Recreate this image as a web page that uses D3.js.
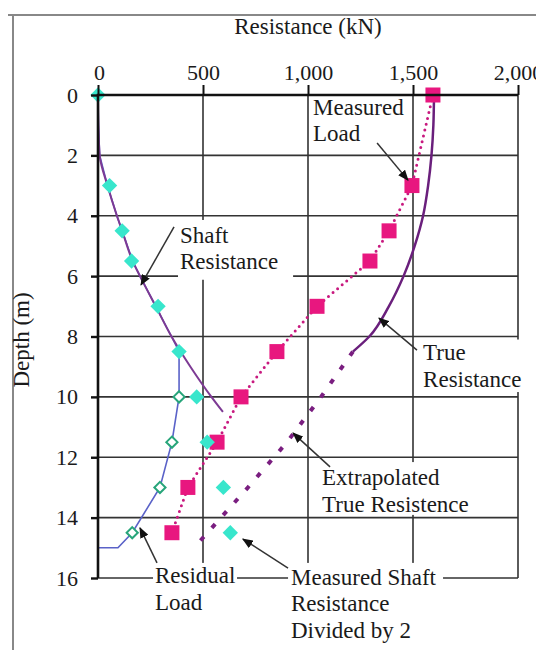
<!DOCTYPE html>
<html>
<head>
<meta charset="utf-8">
<script src="https://cdn.jsdelivr.net/npm/d3@7"></script>
<style>
  body { margin: 0; background: #fff; }
  svg text { font-family: "Liberation Serif", "Times New Roman", serif; fill: #1a1a1a; }
</style>
</head>
<body>
<svg id="chart" width="536" height="650" font-family="Liberation Serif"></svg>
<script>
// tick values
const xTicks = [0, 500, 1000, 1500, 2000];
const yTicks = [0, 2, 4, 6, 8, 10, 12, 14, 16];

// measured shaft resistance divided by 2 (cyan diamonds)
const shaftHalfDepth = [0, 3, 4.5, 5.5, 7, 8.5, 10, 11.5, 13, 14.5];
const shaftHalfKN = [0, 55, 115, 160, 286, 386, 470, 520, 597, 630];

// measured load (magenta squares)
const loadDepth = [0, 3, 4.5, 5.5, 7, 8.5, 10, 11.5, 13, 14.5];
const loadKN = [1595, 1495, 1386, 1295, 1043, 852, 681, 567, 428, 352];

// shaft resistance curve
const shaftDepth = [0, 1, 2, 3, 4, 4.5, 5.5, 6, 7, 8, 9, 10, 10.5];
const shaftKN = [0, 2, 8, 45, 90, 115, 165, 200, 275, 350, 440, 540, 595];

// residual load line and its hollow markers
const residualDepth = [0, 1, 2, 3, 4, 4.5, 5.5, 6, 7, 8, 8.5, 10, 11.5, 13, 14.5, 15, 15];
const residualKN = [0, 2, 8, 45, 90, 115, 165, 200, 275, 350, 386, 386, 352, 295, 163, 95, 0];
const residualMarkDepth = [10, 11.5, 13, 14.5];
const residualMarkKN = [386, 352, 295, 163];

// true resistance
const trueDepth = [0, 1, 2, 3, 4, 5, 6, 7, 8, 8.5];
const trueKN = [1600, 1597, 1588, 1572, 1548, 1508, 1455, 1385, 1292, 1214];

// extrapolated true resistance
const extraDepth = [8.5, 10, 11.5, 13, 15];
const extraKN = [1214, 1062, 900, 714, 457];

const zip = (ds, vs) => ds.map((d, i) => ({ depth: d, kn: vs[i] }));

const svg = d3.select('#chart');
const x = d3.scaleLinear().domain([0, 2000]).range([98, 518]);
const y = d3.scaleLinear().domain([0, 16]).range([95, 578]);

// outer frame
svg.append('path')
   .attr('d', 'M8,15 H536 M13,15 V650')
   .attr('stroke', '#888').attr('stroke-width', 2).attr('fill', 'none');

// grid
const grid = svg.append('g').attr('stroke', '#333').attr('stroke-width', 1.6);
grid.selectAll('line.h')
    .data(yTicks.slice(1))
    .enter().append('line')
    .attr('x1', x(0)).attr('x2', x(2000))
    .attr('y1', (d) => y(d)).attr('y2', (d) => y(d));
grid.selectAll('line.v')
    .data(xTicks.slice(1))
    .enter().append('line')
    .attr('x1', (d) => x(d)).attr('x2', (d) => x(d))
    .attr('y1', y(0)).attr('y2', y(16));

// annotations (positions in data units)
const notes = [
  { lines: ['Shaft', 'Resistance'], kn: 390, depth: 4.9, from: [362, 4.37], to: [205, 6.29], box: [381, 929, 4.14, 6.12] },
  { lines: ['Measured', 'Load'], kn: 1024, depth: 0.66, from: [1329, 1.59], to: [1476, 2.82], box: null },
  { lines: ['True', 'Resistance'], kn: 1548, depth: 8.78, from: [1519, 8.45], to: [1338, 7.39], box: [1533, 2040, 8.1, 9.84] },
  { lines: ['Extrapolated', 'True Resistence'], kn: 1067, depth: 12.92, from: [1105, 12.32], to: [929, 11.2], box: [1048, 1781, 12.16, 13.91] },
  { lines: ['Measured Shaft', 'Resistance', 'Divided by 2'], kn: 919, depth: 16.23, from: [905, 15.67], to: [690, 14.71], box: [905, 1643, 15.5, 18.3] },
  { lines: ['Residual', 'Load'], kn: 271, depth: 16.17, from: [281, 15.5], to: [200, 14.34], box: [262, 662, 15.5, 17.2] },
];

svg.selectAll('rect.notebox')
   .data(notes.filter((n) => n.box))
   .enter().append('rect')
   .attr('fill', '#fff')
   .attr('x', (n) => x(n.box[0]))
   .attr('width', (n) => x(n.box[1]) - x(n.box[0]))
   .attr('y', (n) => y(n.box[2]))
   .attr('height', (n) => y(n.box[3]) - y(n.box[2]));

// series
const line = d3.line().x((p) => x(p.kn)).y((p) => y(p.depth));
const smooth = d3.line().x((p) => x(p.kn)).y((p) => y(p.depth)).curve(d3.curveMonotoneY);

svg.append('path').datum(zip(residualDepth, residualKN))
   .attr('d', line).attr('fill', 'none')
   .attr('stroke', '#5a62c8').attr('stroke-width', 1.6);

svg.append('path').datum(zip(shaftDepth, shaftKN))
   .attr('d', smooth).attr('fill', 'none')
   .attr('stroke', '#7d3a94').attr('stroke-width', 2);

svg.append('path').datum(zip(trueDepth, trueKN))
   .attr('d', smooth).attr('fill', 'none')
   .attr('stroke', '#6a1f7c').attr('stroke-width', 2.5);

svg.append('path').datum(zip(extraDepth, extraKN))
   .attr('d', line).attr('fill', 'none')
   .attr('stroke', '#7a1e80').attr('stroke-width', 4)
   .attr('stroke-dasharray', '5,12');

svg.append('path').datum(zip(loadDepth, loadKN))
   .attr('d', line).attr('fill', 'none')
   .attr('stroke', '#c8197f').attr('stroke-width', 3)
   .attr('stroke-linecap', 'round')
   .attr('stroke-dasharray', '0,6');

svg.selectAll('rect.load')
   .data(zip(loadDepth, loadKN))
   .enter().append('rect')
   .attr('x', (p) => x(p.kn) - 7.5).attr('y', (p) => y(p.depth) - 7.5)
   .attr('width', 15).attr('height', 15)
   .attr('fill', '#e8177f');

const diamond = d3.symbol().type(d3.symbolDiamond2);

svg.selectAll('path.half')
   .data(zip(shaftHalfDepth, shaftHalfKN))
   .enter().append('path')
   .attr('d', diamond.size(150))
   .attr('transform', (p) => `translate(${x(p.kn)},${y(p.depth)})`)
   .attr('fill', '#38e6cc');

svg.selectAll('path.resid')
   .data(zip(residualMarkDepth, residualMarkKN))
   .enter().append('path')
   .attr('d', diamond.size(80))
   .attr('transform', (p) => `translate(${x(p.kn)},${y(p.depth)})`)
   .attr('fill', '#fff').attr('stroke', '#27a57a').attr('stroke-width', 2);

// axis lines
svg.append('path')
   .attr('d', `M${x(0)},${y(16)} V${y(0)} H${x(2000)}`)
   .attr('stroke', '#111').attr('stroke-width', 2.6).attr('fill', 'none');

const xAxis = svg.append('g')
   .attr('transform', `translate(0,${y(0)})`)
   .call(d3.axisTop(x).tickValues(xTicks).tickSize(10).tickSizeOuter(0).tickPadding(5).tickFormat(d3.format(',')));
xAxis.attr('font-family', null);
xAxis.select('.domain').remove();
xAxis.selectAll('.tick line').attr('stroke', '#111').attr('stroke-width', 2);
xAxis.selectAll('.tick text').attr('font-size', 22).attr('fill', '#1a1a1a');
xAxis.select('.tick text').attr('dx', 1);

const yAxis = svg.append('g')
   .attr('transform', `translate(${x(0)},0)`)
   .call(d3.axisLeft(y).tickValues(yTicks).tickSize(7).tickSizeOuter(0).tickPadding(13));
yAxis.attr('font-family', null);
yAxis.select('.domain').remove();
yAxis.selectAll('.tick line').attr('stroke', '#111').attr('stroke-width', 2.4);
yAxis.selectAll('.tick text').attr('font-size', 22).attr('fill', '#1a1a1a');

// axis titles
svg.append('text')
   .attr('x', 308).attr('y', 34)
   .attr('text-anchor', 'middle').attr('font-size', 23)
   .text('Resistance (kN)');

svg.append('text')
   .attr('transform', 'translate(29,340) rotate(-90)')
   .attr('text-anchor', 'middle').attr('font-size', 23)
   .text('Depth (m)');

// arrows
svg.append('defs').append('marker')
   .attr('id', 'head').attr('viewBox', '0 0 10 8')
   .attr('refX', 9).attr('refY', 4)
   .attr('markerWidth', 11).attr('markerHeight', 9)
   .attr('markerUnits', 'userSpaceOnUse')
   .attr('orient', 'auto')
   .append('path').attr('d', 'M0,0 L10,4 L0,8 Z').attr('fill', '#111');

svg.selectAll('line.arrow')
   .data(notes)
   .enter().append('line')
   .attr('x1', (n) => x(n.from[0])).attr('y1', (n) => y(n.from[1]))
   .attr('x2', (n) => x(n.to[0])).attr('y2', (n) => y(n.to[1]))
   .attr('stroke', '#333').attr('stroke-width', 1.5)
   .attr('marker-end', 'url(#head)');

const noteText = svg.selectAll('text.note')
   .data(notes)
   .enter().append('text')
   .attr('font-size', 23)
   .attr('x', (n) => x(n.kn))
   .attr('y', (n) => y(n.depth));
noteText.selectAll('tspan')
   .data((n) => n.lines.map((t) => ({ t, n })))
   .enter().append('tspan')
   .attr('x', (d) => x(d.n.kn))
   .attr('dy', (d, i) => (i === 0 ? 0 : 26.5))
   .text((d) => d.t);
</script>
</body>
</html>
